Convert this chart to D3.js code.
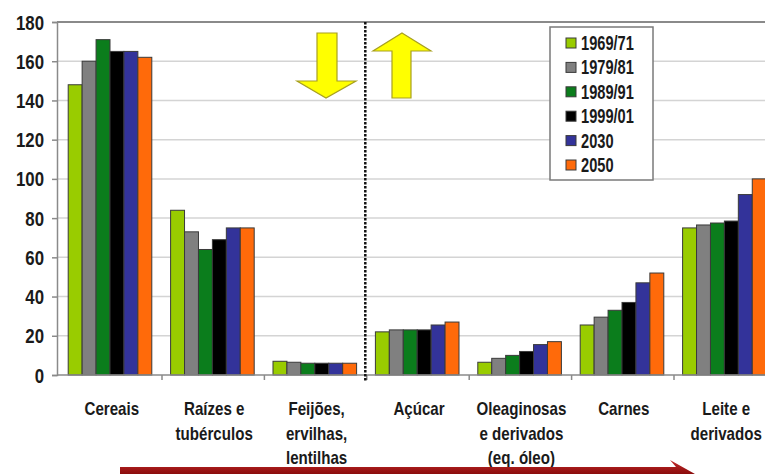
<!DOCTYPE html>
<html>
<head>
<meta charset="utf-8">
<script src="https://cdn.jsdelivr.net/npm/d3@7"></script>
<style>
  html, body { margin: 0; padding: 0; background: #fff; }
  svg { display: block; }
  text { font-family: "Liberation Sans", Arial, sans-serif; font-weight: bold; fill: #1a1a1a; }
</style>
</head>
<body>
<svg id="chart" width="765" height="474"></svg>
<script>
// Food groups (per-capita consumption, kg/year)
const categories = [
  ["Cereais"],
  ["Raízes e", "tubérculos"],
  ["Feijões,", "ervilhas,", "lentilhas"],
  ["Açúcar"],
  ["Oleaginosas", "e derivados", "(eq. óleo)"],
  ["Carnes"],
  ["Leite e", "derivados"]
];
const periods = ["1969/71", "1979/81", "1989/91", "1999/01", "2030", "2050"];
const colors = ["#99cc00", "#808080", "#0b7d1c", "#000000", "#33339a", "#ff6a0a"];

// One array per period, one value per food group
const v1969 = [148, 84, 7.0, 22, 6.5, 25.5, 75];
const v1979 = [160, 73, 6.5, 23, 8.5, 29.5, 76.5];
const v1989 = [171, 64, 6.0, 23, 10, 33, 77.5];
const v1999 = [165, 69, 6.0, 23, 12, 37, 78.5];
const v2030 = [165, 75, 6.0, 25.5, 15.5, 47, 92];
const v2050 = [162, 75, 6.0, 27, 17, 52, 100];
const series = [v1969, v1979, v1989, v1999, v2030, v2050];

const yTicks = [0, 20, 40, 60, 80, 100, 120, 140, 160, 180];

const svg = d3.select("#chart");
const plot = { left: 57, top: 22, bottom: 375, right: 776 };

const x0 = d3.scaleBand()
  .domain(d3.range(categories.length))
  .range([59.6, 776.4])
  .padding(0);
const x1 = d3.scaleBand()
  .domain(d3.range(periods.length))
  .range([8.6, x0.bandwidth() - 10.2])
  .padding(0);
const y = d3.scaleLinear().domain([0, 180]).range([plot.bottom, plot.top]);

// horizontally condensed text helper
function label(parent, x, yy, str, size, sx, anchor) {
  const g = parent.append("g").attr("transform", `translate(${x},${yy}) scale(${sx},1)`);
  g.append("text").attr("text-anchor", anchor || "middle")
    .style("font-size", size + "px").text(str);
  return g;
}

// gridlines
svg.append("g").selectAll("line")
  .data(yTicks.filter(d => d > 0))
  .join("line")
  .attr("x1", plot.left).attr("x2", 765)
  .attr("y1", d => y(d)).attr("y2", d => y(d))
  .attr("stroke", d => d === 180 ? "#8a8a8a" : "#d4d4d4")
  .attr("stroke-width", d => d === 180 ? 2 : 1.5);

// y axis
const yAxis = svg.append("g")
  .attr("transform", `translate(${plot.left},0)`)
  .call(d3.axisLeft(y).tickValues(yTicks).tickSize(5).tickFormat(""));
yAxis.select(".domain").attr("stroke", "#8a8a8a").attr("stroke-width", 1.5);
yAxis.selectAll(".tick line").attr("stroke", "#8a8a8a").attr("stroke-width", 1.5);
yTicks.forEach(t => label(svg, 44, y(t) + 7.5, String(t), 21, 0.8, "end"));

// bars
const groups = svg.append("g").selectAll("g")
  .data(categories.map((c, i) => i))
  .join("g")
  .attr("transform", i => `translate(${x0(i)},0)`);
groups.selectAll("rect")
  .data(i => series.map((s, k) => ({ k, v: s[i] })))
  .join("rect")
  .attr("x", d => x1(d.k))
  .attr("width", x1.bandwidth())
  .attr("y", d => y(d.v))
  .attr("height", d => y(0) - y(d.v))
  .attr("fill", d => colors[d.k])
  .attr("stroke", "#3a3a3a")
  .attr("stroke-width", 1);

// x axis
const xAxisLine = svg.append("g");
xAxisLine.append("line")
  .attr("x1", plot.left).attr("x2", 765)
  .attr("y1", plot.bottom).attr("y2", plot.bottom)
  .attr("stroke", "#8a8a8a").attr("stroke-width", 1.5);
xAxisLine.selectAll("line.tk")
  .data(d3.range(1, categories.length))
  .join("line").attr("class", "tk")
  .attr("x1", i => x0(i)).attr("x2", i => x0(i))
  .attr("y1", plot.bottom).attr("y2", plot.bottom + 5)
  .attr("stroke", "#8a8a8a").attr("stroke-width", 1.5);

// category labels
categories.forEach((lines, i) => {
  lines.forEach((ln, j) => {
    label(svg, x0(i) + x0.bandwidth() / 2 + 1, 415 + j * 24.5, ln, 18, 0.84, "middle");
  });
});

// dotted divider between decreasing and increasing groups
svg.append("line")
  .attr("x1", x0(3) - 1.5).attr("x2", x0(3) - 1.5)
  .attr("y1", plot.top).attr("y2", plot.bottom + 6)
  .attr("stroke", "#111").attr("stroke-width", 2.5)
  .attr("stroke-dasharray", "2.5,1.5");

// yellow arrows
const arrowStyle = s => s.attr("fill", "#ffff00").attr("stroke", "#a8a020").attr("stroke-width", 1.2);
svg.append("path")
  .attr("d", "M317,33 L337,33 L337,81 L356,81 L326,98 L297,81 L317,81 Z")
  .call(arrowStyle);
svg.append("path")
  .attr("d", "M402,33 L431,51 L411,51 L411,98 L392,98 L392,51 L373,51 Z")
  .call(arrowStyle);

// legend
const legend = svg.append("g");
legend.append("rect")
  .attr("x", 550).attr("y", 27).attr("width", 103).attr("height", 153)
  .attr("fill", "#fff").attr("stroke", "#7a7a7a").attr("stroke-width", 1.5);
periods.forEach((p, k) => {
  const cy = 43 + k * 24.4;
  legend.append("rect")
    .attr("x", 566).attr("y", cy - 5).attr("width", 10).attr("height", 10)
    .attr("fill", colors[k]).attr("stroke", "#3a3a3a").attr("stroke-width", 1);
  label(legend, 581, cy + 7, p, 19.5, 0.75, "start");
});

// red arrow along the bottom
const defs = svg.append("defs");
const grad = defs.append("linearGradient").attr("id", "redgrad")
  .attr("x1", 0).attr("x2", 0).attr("y1", 0).attr("y2", 1);
grad.append("stop").attr("offset", "0%").attr("stop-color", "#c42a2a");
grad.append("stop").attr("offset", "100%").attr("stop-color", "#8a0c0c");
svg.append("path")
  .attr("d", "M120,467 L676,467 L670,460 L695,474 L120,474 Z")
  .attr("fill", "url(#redgrad)");
</script>
</body>
</html>
